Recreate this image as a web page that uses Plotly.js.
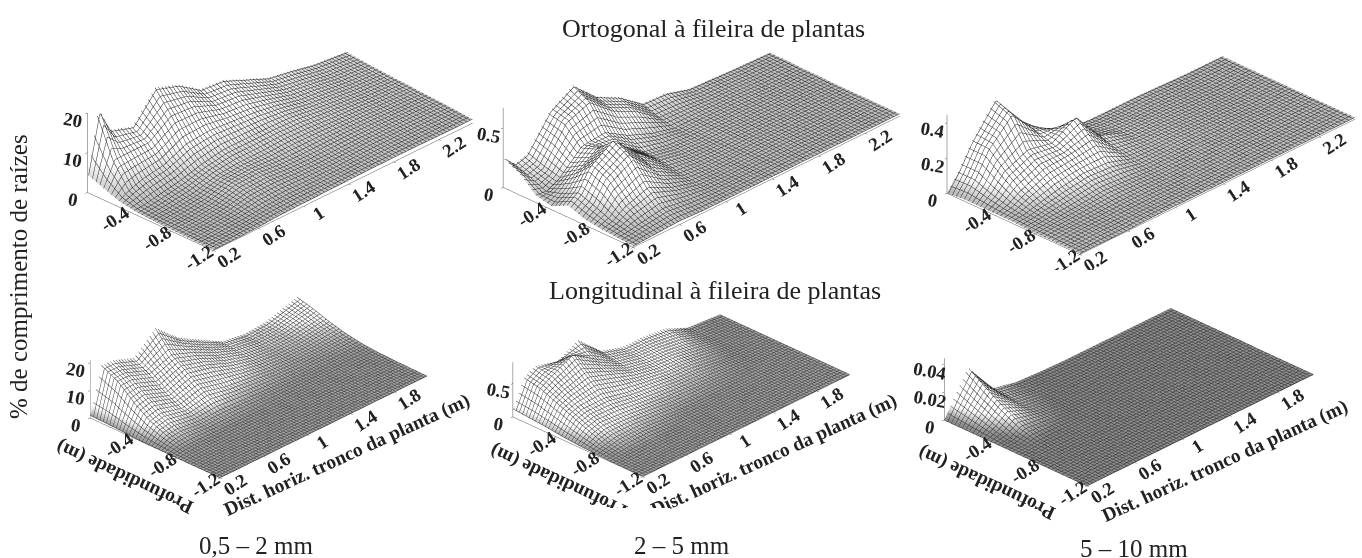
<!DOCTYPE html>
<html><head><meta charset="utf-8">
<script src="https://cdn.plot.ly/plotly-3.0.1.min.js"></script>
<style>html,body{margin:0;padding:0;background:#fff}#c{width:1362px;height:558px;position:relative;overflow:hidden}
#mask{position:absolute;left:560px;top:508px;width:110px;height:24px;background:#fff;pointer-events:none}</style>
</head><body><div id="c"><div id="g" style="width:1362px;height:558px"></div><div id="mask"></div></div>
<script>
var depth = [0,-0.15,-0.3,-0.45,-0.6,-0.75,-0.9,-1.05,-1.2];
var distTop = [0.2,0.3,0.4,0.6,0.8,1,1.2,1.4,1.6,1.8,2,2.2,2.5];
var distBottom = [0.2,0.3,0.4,0.6,0.8,1,1.2,1.4,1.6,1.8,2.1];
var distTicksTop = [0.2,0.6,1,1.4,1.8,2.2];
var distTicksBottom = [0.2,0.6,1,1.4,1.8];
var depthTicks = [-0.4,-0.8,-1.2];

var orto_05_2 = [
[4.5,19.5,13,11,18,16,12,11.5,9,6.5,5.5,4.2,3.3],
[3,9,9,9,13,12.5,10,9.5,7.5,5.5,4.6,3.6,2.9],
[1.5,3,4,5,7.5,8,7.5,7,6,4.6,4,3.2,2.6],
[0.8,1,1.5,2.5,4,5,5,5,4.8,4,3.4,2.8,2.3],
[0.5,0.6,0.8,1.5,3,3.5,3.5,3.8,3.6,3.2,2.9,2.5,2.1],
[0.4,0.4,0.5,1.2,3,3.2,2.6,2.5,2.6,2.6,2.4,2.1,1.8],
[0.3,0.3,0.4,1,2.2,2.4,2,1.8,1.9,2,1.9,1.8,1.6],
[0.2,0.2,0.3,0.6,1.2,1.4,1.3,1.3,1.4,1.5,1.5,1.4,1.3],
[0.2,0.2,0.2,0.4,0.7,0.8,0.9,1,1.1,1.1,1.1,1,1]];
var orto_2_5 = [
[0.25,0.15,0.18,0.45,0.57,0.38,0.28,0.13,0.12,0.06,0.05,0.04,0.03],
[0.18,0.1,0.13,0.42,0.5,0.33,0.23,0.08,0.07,0.05,0.045,0.035,0.03],
[0.06,0.05,0.1,0.28,0.3,0.18,0.1,0.05,0.05,0.045,0.04,0.03,0.025],
[0.03,0.1,0.2,0.33,0.25,0.1,0.06,0.045,0.045,0.04,0.035,0.03,0.025],
[0.1,0.17,0.33,0.46,0.25,0.09,0.05,0.04,0.04,0.035,0.03,0.03,0.02],
[0.05,0.12,0.27,0.38,0.18,0.06,0.04,0.035,0.035,0.03,0.03,0.025,0.02],
[0.03,0.06,0.13,0.2,0.1,0.04,0.03,0.03,0.03,0.03,0.025,0.02,0.02],
[0.02,0.03,0.05,0.08,0.05,0.03,0.025,0.025,0.025,0.025,0.02,0.02,0.02],
[0.01,0.015,0.02,0.03,0.02,0.02,0.02,0.02,0.02,0.02,0.02,0.02,0.02]];
var orto_5_10 = [
[0,0.1,0.22,0.4,0.22,0.08,0.03,0.02,0.02,0.02,0.015,0.01,0.01],
[0.01,0.1,0.22,0.36,0.2,0.15,0.05,0.03,0.02,0.02,0.015,0.01,0.01],
[0.01,0.06,0.14,0.2,0.17,0.25,0.08,0.03,0.025,0.02,0.015,0.01,0.01],
[0.01,0.03,0.07,0.13,0.14,0.16,0.05,0.03,0.025,0.02,0.015,0.01,0.01],
[0.01,0.015,0.03,0.06,0.08,0.07,0.03,0.025,0.025,0.02,0.015,0.01,0.01],
[0.005,0.01,0.015,0.025,0.04,0.03,0.02,0.02,0.02,0.015,0.015,0.01,0.01],
[0.005,0.01,0.01,0.015,0.02,0.02,0.015,0.015,0.015,0.015,0.01,0.01,0.01],
[0.005,0.005,0.01,0.01,0.012,0.012,0.01,0.01,0.01,0.01,0.01,0.01,0.01],
[0.005,0.005,0.005,0.005,0.01,0.01,0.01,0.01,0.01,0.01,0.01,0.01,0.01]];
var long_05_2 = [
[1,17,17,14,21,13.6,9,4.5,3,3.5,7],
[0.8,14,14,11,14,11,7,4,2.8,3,5.5],
[0.5,9,10,7,10,8,5,3,2.2,2.2,3.5],
[0.2,5,6,4,6,4,3,2,1.5,1.5,2],
[0.1,2.5,3,2,2.2,1.8,1.3,1,0.9,0.9,1],
[0.1,0.8,1,0.8,0.7,0.6,0.5,0.5,0.5,0.5,0.5],
[0.1,0.2,0.3,0.3,0.3,0.3,0.3,0.3,0.3,0.3,0.3],
[0.1,0.1,0.2,0.2,0.2,0.2,0.2,0.2,0.2,0.2,0.2],
[0.1,0.1,0.1,0.1,0.1,0.1,0.1,0.1,0.1,0.1,0.1]];
var long_2_5 = [
[0.12,0.5,0.6,0.5,0.67,0.35,0.24,0.24,0.2,0.05,0.01],
[0.1,0.45,0.55,0.72,0.5,0.3,0.22,0.2,0.15,0.04,0.01],
[0.08,0.35,0.42,0.5,0.38,0.25,0.18,0.16,0.1,0.03,0.01],
[0.05,0.25,0.3,0.3,0.22,0.18,0.13,0.11,0.06,0.02,0.01],
[0.03,0.15,0.2,0.18,0.14,0.1,0.08,0.06,0.04,0.02,0.01],
[0.02,0.06,0.1,0.1,0.07,0.04,0.03,0.03,0.02,0.015,0.01],
[0.01,0.02,0.03,0.04,0.02,0.02,0.02,0.015,0.01,0.01,0.01],
[0.01,0.01,0.01,0.015,0.01,0.01,0.01,0.01,0.01,0.01,0.01],
[0.01,0.01,0.01,0.01,0.01,0.01,0.01,0.01,0.01,0.01,0.01]];
var long_5_10 = [
[0,0.015,0.029,0.006,0.002,0.001,0.0005,0.0005,0.0005,0.0005,0.0005],
[0,0.01,0.02,0.005,0.002,0.001,0.0005,0.0005,0.0005,0.0005,0.0005],
[0,0.005,0.012,0.004,0.0015,0.0008,0.0005,0.0005,0.0005,0.0005,0.0005],
[0,0.0005,0.005,0.003,0.001,0.0006,0.0005,0.0005,0.0005,0.0005,0.0005],
[0,0,0.001,0.001,0.0005,0.0005,0.0005,0.0005,0.0005,0.0005,0.0005],
[0,0,0.0003,0.0003,0.0003,0.0003,0.0003,0.0003,0.0003,0.0003,0.0003],
[0,0,0.0003,0.0003,0.0003,0.0003,0.0003,0.0003,0.0003,0.0003,0.0003],
[0,0,0.0003,0.0003,0.0003,0.0003,0.0003,0.0003,0.0003,0.0003,0.0003],
[0,0,0.0003,0.0003,0.0003,0.0003,0.0003,0.0003,0.0003,0.0003,0.0003]];

var W=1362,H=558,K=135;
var serif='"Liberation Serif", serif';
// dx,dy = shift of the box centre from the domain centre, in px
var panels=[
 {z:orto_05_2,x:distTop,tx:distTicksTop,zr:[0,20],zt:[0,10,20],px:[30,480,0,270],ax:2.76,ay:1.30,az:.67,dx:25,dy:-17,base:'#bcbcbc',lo:.03,hi:.4,sx:.03,sy:.036,line:'#2a2a2a'},
 {z:orto_2_5,x:distTop,tx:distTicksTop,zr:[0,.67],zt:[0,.5],px:[460,920,0,270],ax:2.84,ay:1.34,az:.67,dx:11.5,dy:-23,base:'#bcbcbc',lo:.03,hi:.3,sx:.03,sy:.036,line:'#2a2a2a'},
 {z:orto_5_10,x:distTop,tx:distTicksTop,zr:[0,.445],zt:[0,.2,.4],px:[910,1362,0,270],ax:2.93,ay:1.37,az:.66,dx:15,dy:-18,base:'#bcbcbc',lo:.03,hi:.2,sx:.03,sy:.036,line:'#2a2a2a'},
 {z:long_05_2,x:distBottom,tx:distTicksBottom,zr:[0,21],zt:[0,10,20],px:[30,480,280,558],ax:2.14,ay:1.30,az:.475,dx:3.5,dy:-49.5,base:'#a0a0a0',lo:.03,hi:.2,sx:.026,sy:.03,line:'#3a3a3a'},
 {z:long_2_5,x:distBottom,tx:distTicksBottom,zr:[0,.82],zt:[0,.5],px:[460,920,280,558],ax:2.14,ay:1.30,az:.447,dx:-8.5,dy:-49,base:'#a0a0a0',lo:.03,hi:.2,sx:.026,sy:.03,line:'#3a3a3a'},
 {z:long_5_10,x:distBottom,tx:distTicksBottom,zr:[0,.044],zt:[0,.02,.04],px:[910,1362,280,558],ax:2.34,ay:1.43,az:.505,dx:-7,dy:-51,base:'#8c8c8c',lo:.03,hi:.2,sx:.026,sy:.03,line:'#333333'}
];
var dir=[-.63,-.61,.475], right=[.696,-.718,0], up=[.34,.33,.88];
var data=[],layout={width:W,height:H,margin:{l:0,r:0,t:0,b:0},paper_bgcolor:'#fff',showlegend:false,annotations:[],font:{family:serif,color:'#222'}};
panels.forEach(function(p,i){
  var name=i?('scene'+(i+1)):'scene';
  data.push({type:'surface',scene:name,x:p.x,y:depth,z:p.z,showscale:false,hoverinfo:'skip',
    cmin:p.zr[0],cmax:p.zr[1],
    colorscale:[[0,p.base],[p.lo,p.base],[p.hi,'#ffffff'],[1,'#ffffff']],
    lighting:{ambient:1,diffuse:0,specular:0,fresnel:0,roughness:1},
    contours:{
      x:{show:true,start:p.x[0],end:p.x[p.x.length-1],size:p.sx,color:p.line,width:1},
      y:{show:true,start:-1.2,end:0,size:p.sy,color:p.line,width:1},
      z:{show:false}}});
  var ax=function(r,tv,ang){return {range:r,tickvals:tv,ticktext:tv.map(String),showgrid:false,zeroline:false,showbackground:false,showspikes:false,
    showline:true,linecolor:'#555',linewidth:1,ticks:'outside',ticklen:3,tickcolor:'#555',tickangle:ang,
    tickfont:{family:serif,size:15,color:'#222',weight:700},title:{text:''}};};
  var D=2, c=[0,1,2].map(function(j){return -p.dx/K*right[j]+p.dy/K*up[j];});
  layout[name]={domain:{x:[p.px[0]/W,p.px[1]/W],y:[1-p.px[3]/H,1-p.px[2]/H]},
    aspectmode:'manual',aspectratio:{x:p.ax,y:p.ay,z:p.az},
    camera:{projection:{type:'orthographic'},up:{x:0,y:0,z:1},center:{x:c[0],y:c[1],z:c[2]},
      eye:{x:c[0]+dir[0]*D,y:c[1]+dir[1]*D,z:c[2]+dir[2]*D}},
    xaxis:ax([p.x[0],p.x[p.x.length-1]],p.tx,-33),
    yaxis:ax([-1.2,0],depthTicks,-33),
    zaxis:ax(p.zr,p.zt,10)};
});
function note(t,x,y,size,ang,bold){layout.annotations.push({text:bold?'<b>'+t+'</b>':t,xref:'paper',yref:'paper',x:x/W,y:1-y/H,xanchor:'center',yanchor:'middle',showarrow:false,textangle:ang,font:{family:serif,size:size,color:'#222'}});}
note('Ortogonal à fileira de plantas',713,29,26,0);
note('Longitudinal à fileira de plantas',715,290,26,0);
note('% de comprimento de raízes',18,277,25,-90);
note('0,5 – 2 mm',256,545,25,0);
note('2 – 5 mm',682,545,25,0);
note('5 – 10 mm',1134,548,25,0);
note('Dist. horiz. tronco da planta (m)',347,455,19.5,-24.6,true);
note('Dist. horiz. tronco da planta (m)',774,455,19.5,-24.6,true);
note('Dist. horiz. tronco da planta (m)',1225,461,19.5,-24.6,true);
note('Profundidade (m)',125,477,19.5,-155,true);
note('Profundidade (m)',559,481,19.5,-155,true);
note('Profundidade (m)',987,483,19.5,-155,true);
Plotly.newPlot('g',data,layout,{displayModeBar:false});
</script></body></html>
